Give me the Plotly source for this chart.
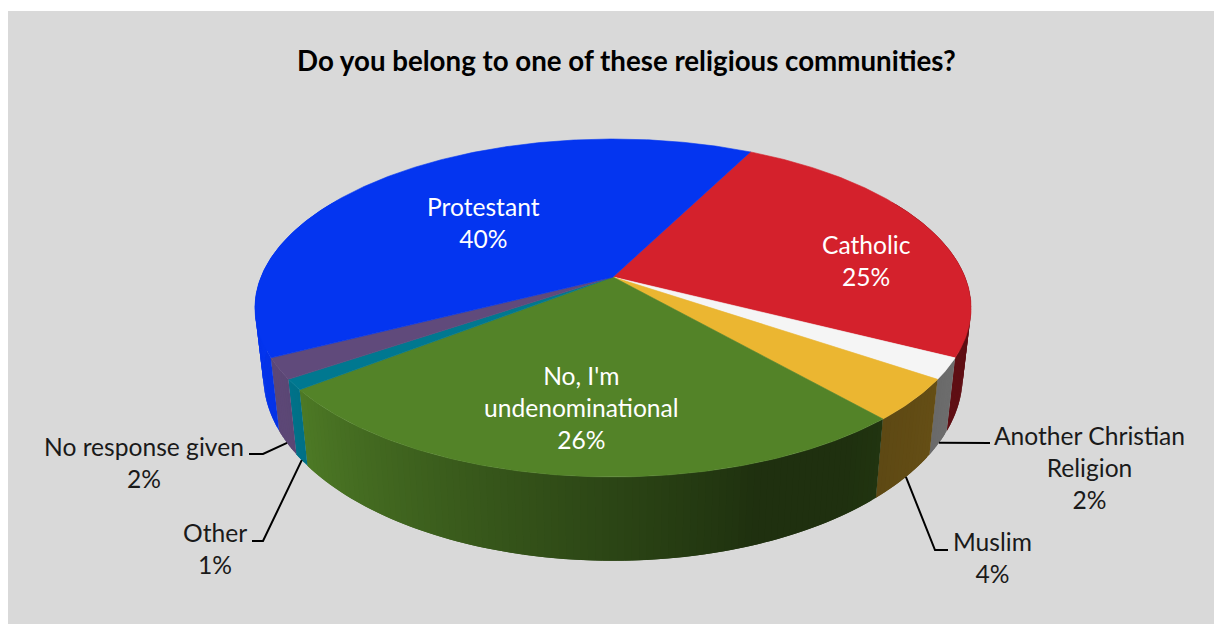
import numpy as np
import plotly.graph_objects as go

# Survey results, clockwise from the first slice
categories = ["Catholic", "Another Christian<br>Religion", "Muslim",
              "No, I'm<br>undenominational", "Other", "No response given", "Protestant"]
values = [25, 2, 4, 26, 1, 2, 40]
colors = ["#d4212c", "#f5f5f5", "#ebb631", "#538328", "#007890", "#604a7b", "#0435f0"]
title_text = "Do you belong to one of these religious communities?"

FIRST_SLICE_DEG = 27

# Perspective projection of the top and bottom discs onto plot coordinates
TOP = dict(cx=613, cy=277, bx=352, az=163.3, k=-0.1834)
BOTTOM = dict(cx=613, cy=342.5, bx=344, az=179, k=-0.18)

# Side wall brightness as a function of the angle round the pie
SHADE_ANGLES = [60, 115, 138, 145, 160, 235, 270, 330]
SHADE_LEVELS = [0.45, 0.45, 0.40, 0.37, 0.37, 0.95, 1.0, 1.0]


def project(theta_deg, disc):
    t = np.radians(theta_deg)
    x, z = np.sin(t), -np.cos(t)
    d = 1 + disc["k"] * z
    return disc["cx"] + disc["bx"] * x / d, disc["cy"] + disc["az"] * z / d


def shaded(hex_color, level):
    rgb = [int(hex_color[i:i + 2], 16) for i in (1, 3, 5)]
    return "rgb({},{},{})".format(*[int(round(c * level)) for c in rgb])


shares = np.array(values, dtype=float) / sum(values) * 360
edges = FIRST_SLICE_DEG + np.concatenate([[0], np.cumsum(shares)])
mids = (edges[:-1] + edges[1:]) / 2

fig = go.Figure()


def polygon(xs, ys, color, width=0.6):
    fig.add_trace(go.Scatter(
        x=xs, y=ys, mode="lines", fill="toself", fillcolor=color,
        line=dict(color=color, width=width), hoverinfo="skip", showlegend=False))


# Side wall in narrow strips so the shading runs round the rim. Each strip
# reaches under the next one, which keeps the background out of the joins.
STEP = 1.0
for i, color in enumerate(colors):
    a, b = edges[i], edges[i + 1]
    n = max(1, int(np.ceil((b - a) / STEP)))
    grid = np.linspace(a, b, n + 1)
    for s, e in zip(grid[:-1], grid[1:]):
        m = (s + e) / 2
        folded = m % 360
        if folded < 60 or folded > 300:
            continue
        arc = np.array([s, min(e + STEP, b if e < b else e)])
        tx, ty = project(arc, TOP)
        bx, by = project(arc[::-1], BOTTOM)
        level = float(np.interp(folded, SHADE_ANGLES, SHADE_LEVELS))
        polygon(np.r_[tx, bx, tx[0]], np.r_[ty, by, ty[0]], shaded(color, level), 0)

# Top face of each slice
for i, color in enumerate(colors):
    arc = np.linspace(edges[i], edges[i + 1], max(3, int(shares[i] * 2)))
    ax, ay = project(arc, TOP)
    polygon(np.r_[TOP["cx"], ax, TOP["cx"]], np.r_[TOP["cy"], ay, TOP["cy"]], color)

# Leader lines run from the rim of the slice to the outside labels
leader_bends = {
    1: [(990, 443)],
    2: [(935, 550), (948, 550)],
    4: [(263, 541), (252, 541)],
    5: [(263, 454), (249, 454)],
}
for i, bends in leader_bends.items():
    sx, sy = project(mids[i], BOTTOM)
    fig.add_trace(go.Scatter(
        x=[float(sx)] + [p[0] for p in bends],
        y=[float(sy)] + [p[1] for p in bends],
        mode="lines", line=dict(color="#000000", width=2),
        hoverinfo="skip", showlegend=False))

# Label centres: (x, y, colour)
label_places = {
    0: (866, 260, "#ffffff"),
    1: (1089, 467, "#1a1a1a"),
    2: (992, 557, "#1a1a1a"),
    3: (581, 407, "#ffffff"),
    4: (215, 548, "#1a1a1a"),
    5: (144, 462, "#1a1a1a"),
    6: (483, 222, "#ffffff"),
}
annotations = [
    dict(x=x, y=y, xref="x", yref="y", showarrow=False, align="center",
         text=f"{categories[i]}<br>{values[i]}%",
         font=dict(family="Lato", size=24.6, color=c))
    for i, (x, y, c) in label_places.items()
]
annotations.append(dict(
    x=626, y=60, xref="x", yref="y", showarrow=False,
    text=f"<b>{title_text}</b>",
    font=dict(family="Lato", size=27.7, color="#000000")))

fig.update_layout(
    width=1214, height=624, margin=dict(l=0, r=0, t=0, b=0),
    paper_bgcolor="#ffffff", plot_bgcolor="rgba(0,0,0,0)",
    xaxis=dict(range=[0, 1214], visible=False, fixedrange=True),
    yaxis=dict(range=[624, 0], visible=False, fixedrange=True),
    showlegend=False, annotations=annotations,
    shapes=[dict(type="rect", xref="x", yref="y", x0=8, y0=11, x1=1214, y1=624,
                 fillcolor="#d9d9d9", line=dict(width=0), layer="below")],
)

fig.write_html("out.html", config=dict(displayModeBar=False))
